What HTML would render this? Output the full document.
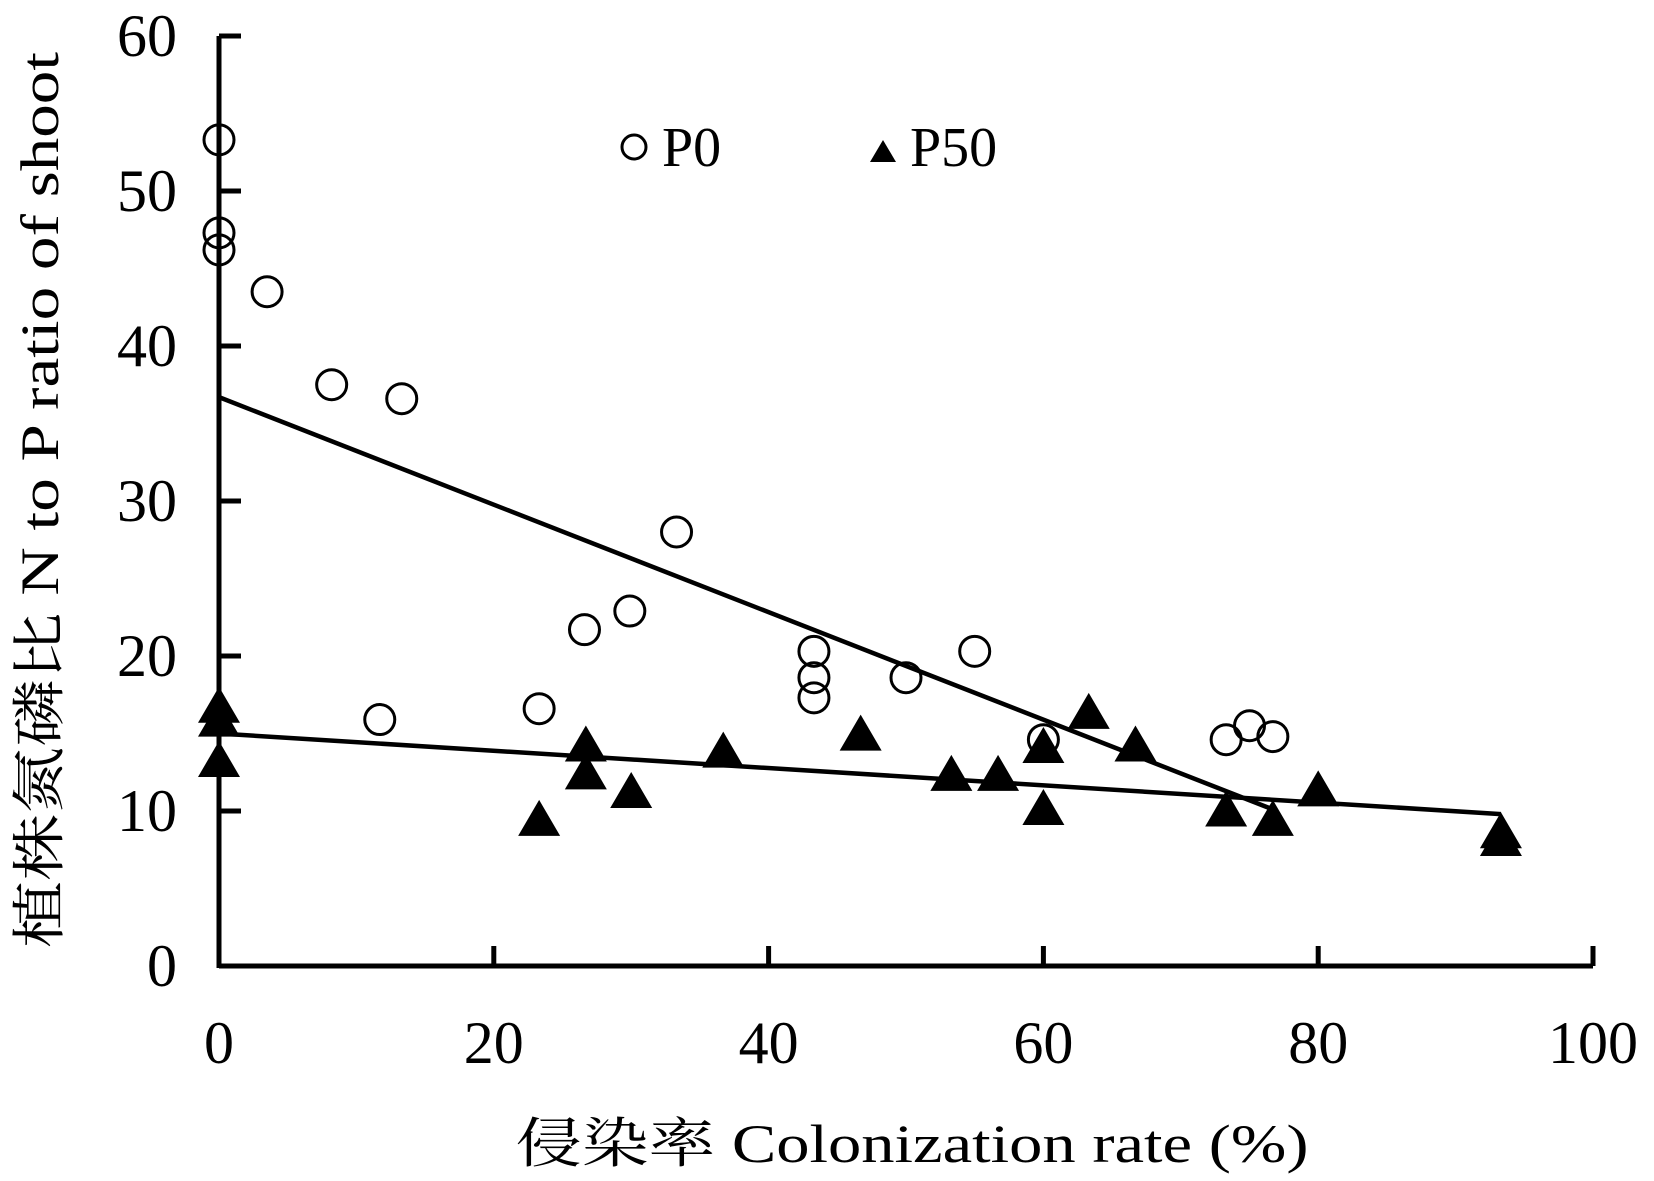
<!DOCTYPE html>
<html><head><meta charset="utf-8"><style>
html,body{margin:0;padding:0;background:#fff;}
svg{display:block;font-family:"Liberation Serif","Noto Serif CJK SC",serif;}
</style></head><body>
<svg id="chart" width="1654" height="1181" viewBox="0 0 1654 1181" xmlns="http://www.w3.org/2000/svg">
<g id="axes"></g>
<g id="marks"></g>
<text x="912" y="1162" font-size="54" text-anchor="middle" textLength="793" lengthAdjust="spacingAndGlyphs">侵染率 Colonization rate (%)</text>
<text transform="translate(58,500) rotate(-90)" font-size="54" text-anchor="middle" textLength="896" lengthAdjust="spacingAndGlyphs">植株氮磷比 N to P ratio of shoot</text>
<g>
<circle cx="634" cy="147" r="12" fill="none" stroke="#000" stroke-width="3"/>
<text x="662" y="166" font-size="56">P0</text>
<polygon points="870,162 896,162 883,140" fill="#000"/>
<text x="910" y="166" font-size="56">P50</text>
</g>
</svg>
<script>
const xTicks=[0,20,40,60,80,100];
const yTicks=[0,10,20,30,40,50,60];
const p0X=[0,0,0,3.5,8.2,13.3,11.7,23.3,26.6,29.9,33.3,43.3,43.3,43.3,50,55,60,73.3,75,76.7];
const p0Y=[53.3,47.3,46.2,43.5,37.5,36.6,15.9,16.6,21.7,22.9,28.0,20.3,18.6,17.3,18.6,20.3,14.6,14.6,15.5,14.8];
const p50X=[0,0,0,23.3,26.7,26.7,30,36.7,46.7,53.3,56.7,60,60,63.3,66.7,73.3,76.7,80,93.3,93.3];
const p50Y=[16.6,15.7,13.1,9.3,14.1,12.3,11.1,13.7,14.8,12.2,12.2,14.0,10.0,16.2,14.1,9.9,9.3,11.2,8.5,8.0];
const p0Fit=[[0,36.7],[76.7,10.1]];
const p50Fit=[[0,15.0],[93.3,9.8]];
const NS="http://www.w3.org/2000/svg";
const sx=v=>219+v*13.74;
const sy=v=>966-v*15.5;
function mk(tag,attrs,parent){const e=document.createElementNS(NS,tag);for(const k in attrs)e.setAttribute(k,attrs[k]);parent.appendChild(e);return e;}
const axes=document.getElementById('axes'),marks=document.getElementById('marks');
let a=mk('line',{x1:sx(0),y1:sy(0),x2:sx(100),y2:sy(0),stroke:'#000','stroke-width':5},axes);


a=mk('line',{x1:sx(0),y1:sy(0)+2,x2:sx(0),y2:sy(60),stroke:'#000','stroke-width':5},axes);


xTicks.forEach(v=>{
 const t=mk('line',{x1:sx(v),y1:sy(0),x2:sx(v),y2:sy(0)-20,stroke:'#000','stroke-width':5},axes);
 
 
 const l=mk('text',{x:sx(v),y:1063,'font-size':60,'text-anchor':'middle'},axes);l.textContent=v;
 
 
});
yTicks.forEach(v=>{
 const t=mk('line',{x1:sx(0),y1:sy(v),x2:sx(0)+22,y2:sy(v),stroke:'#000','stroke-width':5},axes);
 
 
 const l=mk('text',{x:177,y:sy(v)+20,'font-size':60,'text-anchor':'end'},axes);l.textContent=v;
 
 
});
let f=mk('line',{x1:sx(p0Fit[0][0]),y1:sy(p0Fit[0][1]),x2:sx(p0Fit[1][0]),y2:sy(p0Fit[1][1]),stroke:'#000','stroke-width':4.5},marks);


f=mk('line',{x1:sx(p50Fit[0][0]),y1:sy(p50Fit[0][1]),x2:sx(p50Fit[1][0]),y2:sy(p50Fit[1][1]),stroke:'#000','stroke-width':4.5},marks);


p0X.forEach((x,i)=>{
 const c=mk('circle',{cx:sx(x),cy:sy(p0Y[i]),r:15,fill:'none',stroke:'#000','stroke-width':3},marks);
 
 
});
p50X.forEach((x,i)=>{
 const cx=sx(x),cy=sy(p50Y[i]);
 const p=mk('polygon',{points:`${cx-21},${cy+14} ${cx+21},${cy+14} ${cx},${cy-22}`,fill:'#000'},marks);
 
 
});
</script>
</body></html>
